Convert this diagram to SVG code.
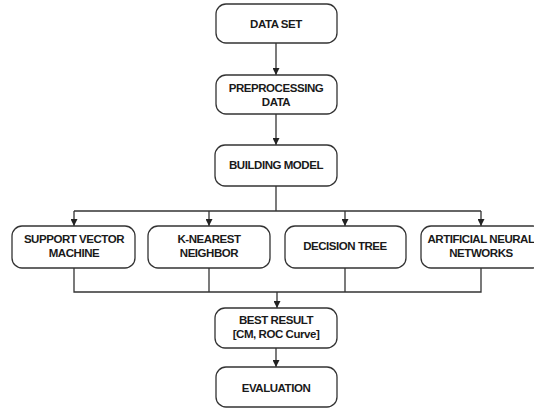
<svg xmlns="http://www.w3.org/2000/svg" width="534" height="409" viewBox="0 0 534 409">
<defs>
<marker id="ah" viewBox="0 0 10 10" refX="10" refY="5" markerWidth="7" markerHeight="7" markerUnits="userSpaceOnUse" orient="auto"><path d="M0,0 L10,5 L0,10 z" fill="#222"/></marker>
</defs>
<style>
.box{fill:#fff;stroke:#333;stroke-width:1.3}
.t{font-family:"Liberation Sans",Arial,sans-serif;font-weight:bold;font-size:11.5px;fill:#1a1a1a;text-anchor:middle;letter-spacing:-0.45px}
.c{fill:none;stroke:#333;stroke-width:1.3}
</style>
<rect width="534" height="409" fill="#fff"/>
<g id="connectors">
<line class="c" x1="276" y1="43" x2="276" y2="75" marker-end="url(#ah)"/>
<line class="c" x1="276" y1="114" x2="276" y2="145" marker-end="url(#ah)"/>
<line class="c" x1="276" y1="186" x2="276" y2="211"/>
<line class="c" x1="74" y1="211" x2="481" y2="211"/>
<line class="c" x1="74" y1="211" x2="74" y2="226" marker-end="url(#ah)"/>
<line class="c" x1="209" y1="211" x2="209" y2="226" marker-end="url(#ah)"/>
<line class="c" x1="345" y1="211" x2="345" y2="226" marker-end="url(#ah)"/>
<line class="c" x1="481" y1="211" x2="481" y2="226" marker-end="url(#ah)"/>
<polyline class="c" points="74,268 74,292 481,292 481,268"/>
<line class="c" x1="209" y1="268" x2="209" y2="292"/>
<line class="c" x1="345" y1="268" x2="345" y2="292"/>
<line class="c" x1="277" y1="292" x2="277" y2="308" marker-end="url(#ah)"/>
<line class="c" x1="276" y1="348" x2="276" y2="367" marker-end="url(#ah)"/>
</g>
<g id="dataset"><rect class="box" x="216" y="4" width="121" height="39" rx="10"/><text class="t" x="276" y="28">DATA SET</text></g>
<g id="preprocessing"><rect class="box" x="216" y="75" width="121" height="39" rx="10"/><text class="t" x="276" y="92">PREPROCESSING</text><text class="t" x="276" y="106">DATA</text></g>
<g id="building"><rect class="box" x="215" y="145" width="122" height="41" rx="10"/><text class="t" x="276" y="169">BUILDING MODEL</text></g>
<g id="svm"><rect class="box" x="12" y="226" width="123" height="42" rx="10"/><text class="t" x="74" y="243">SUPPORT VECTOR</text><text class="t" x="74" y="257">MACHINE</text></g>
<g id="knn"><rect class="box" x="148" y="226" width="122" height="42" rx="10"/><text class="t" x="209" y="243">K-NEAREST</text><text class="t" x="209" y="257">NEIGHBOR</text></g>
<g id="dtree"><rect class="box" x="285" y="226" width="121" height="42" rx="10"/><text class="t" x="345" y="250">DECISION TREE</text></g>
<g id="ann"><rect class="box" x="421" y="226" width="122" height="42" rx="10"/><text class="t" x="481" y="243">ARTIFICIAL NEURAL</text><text class="t" x="481" y="257">NETWORKS</text></g>
<g id="best"><rect class="box" x="215" y="308" width="122" height="40" rx="10"/><text class="t" x="276" y="324">BEST RESULT</text><text class="t" x="276" y="338">[CM, ROC Curve]</text></g>
<g id="evaluation"><rect class="box" x="216" y="367" width="121" height="40" rx="10"/><text class="t" x="276" y="392">EVALUATION</text></g>
</svg>
